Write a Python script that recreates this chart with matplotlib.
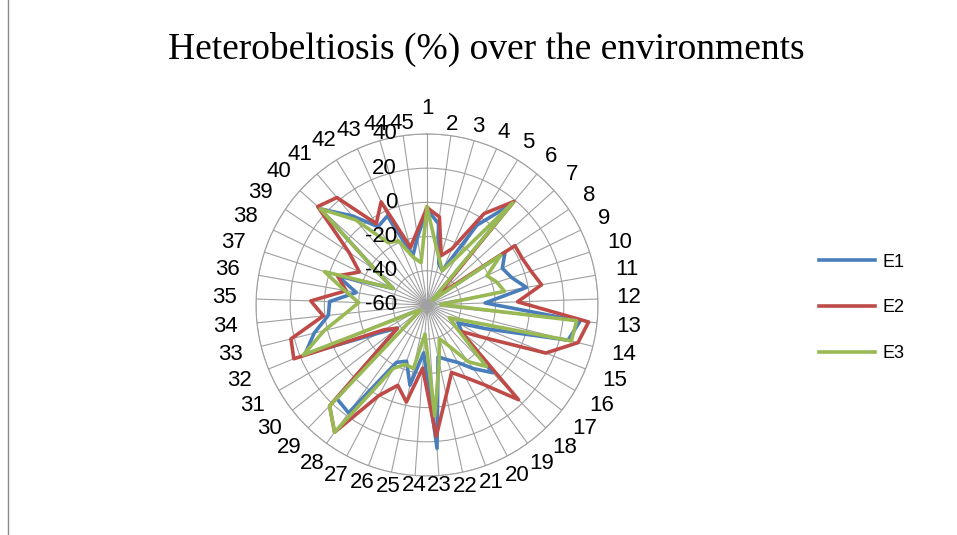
import numpy as np
import matplotlib.pyplot as plt
import matplotlib.transforms as mtransforms
from matplotlib.lines import Line2D

# 45 entries, clockwise from the top
cats = [str(i) for i in range(1, 46)]
r_ticks = [-60, -40, -20, 0, 20, 40]

e1 = [-4, -12, -35, -38, -5, 17, -55, -5, -11, -8,
      -1, -26, 30, 25, -23, -39, -34, -5, -14, -22,
      -26, -29, 24, -32, -12, -25, -22, 18, 16, -38,
      -27, 17, 8, -2, -3, -18, -5, -38, -24, 24,
      8, -6, -3, -30, -20]
e2 = [-3, -8, -30, -24, 3, 19, -52, 2, 2, 4,
      8, -7, 35, 31, 15, -22, -35, 17, -2, -12,
      -18, -6, 17, -23, -2, -10, 0, 32, 22, -38,
      -31, 24, 22, 1, 8, -12, -5, -16, -5, 26,
      22, -4, 6, -25, -17]
e3 = [-3, -24, -33, -38, -27, 18, -56, -8, -21, -17,
      -14, -52, 28, 27, -35, -45, -38, -10, -19, -33,
      -39, -26, 5, -43, -22, -23, -18, 32, 22, -55,
      -52, 18, 2, -12, -20, -11, 3, -38, -24, 24,
      5, -17, -19, -31, -35]

series = [("E1", e1, "#4a7ebb"), ("E2", e2, "#be4b48"), ("E3", e3, "#98b954")]
FS = 16

fig = plt.figure(figsize=(9.57, 5.35), dpi=100)
ax = fig.add_axes([0.2675, 0.1103, 0.3574, 0.6393], projection="polar")
ax.set_theta_zero_location("N")
ax.set_theta_direction(-1)

ang = np.deg2rad(np.arange(len(cats)) * 360.0 / len(cats))
for name, vals, col in series:
    a = np.append(ang, ang[0])
    v = list(vals) + [vals[0]]
    ax.plot(a, v, color=col, lw=2.6, label=name, solid_joinstyle="round")

ax.set_ylim(-60, 40)
ax.set_yticks(r_ticks)
ax.set_yticklabels([])
ax.set_xticks(ang)
ax.set_xticklabels([])
ax.tick_params(axis="x", length=0)
ax.grid(color="#a0a0a0", lw=0.8)
ax.spines["polar"].set_color("#a0a0a0")

# category labels: Excel-like spacing, tight at top/bottom, wider at the sides
for i, (t, lab) in enumerate(zip(ang, cats)):
    s, c = np.sin(t), np.cos(t)
    d = abs(s) * 6 * len(lab) + abs(c) * 8 + 19 * abs(s)
    if i == 0:
        d += 17  # first label is lifted clear of the value labels
    tr = mtransforms.offset_copy(ax.transData, fig=fig, x=d * s, y=d * c, units="dots")
    ax.text(t, 40, lab, transform=tr, ha="center", va="center",
            fontsize=FS, family="Liberation Sans")

# radial labels sit left of the top spoke
off = mtransforms.offset_copy(ax.transData, fig=fig, x=-30, y=0, units="dots")
for t in r_ticks:
    ax.text(0, t, str(t), transform=off, ha="right", va="center",
            fontsize=FS, family="Liberation Sans")

fig.text(0.508, 1 - 49 / 535, "Heterobeltiosis (%) over the environments",
         family="Liberation Serif", fontsize=27, ha="center", va="center")

fig.legend(loc="center left", bbox_to_anchor=(819 / 957, 1 - 308 / 535),
           frameon=False, prop={"family": "Liberation Sans", "size": 13},
           handlelength=3.1, handletextpad=0.4, labelspacing=1.6,
           borderpad=0, borderaxespad=0)

fig.add_artist(Line2D([8 / 957, 8 / 957], [0, 1], transform=fig.transFigure,
                      color="#8c8c8c", lw=1))

fig.savefig("out.png", dpi=100)
